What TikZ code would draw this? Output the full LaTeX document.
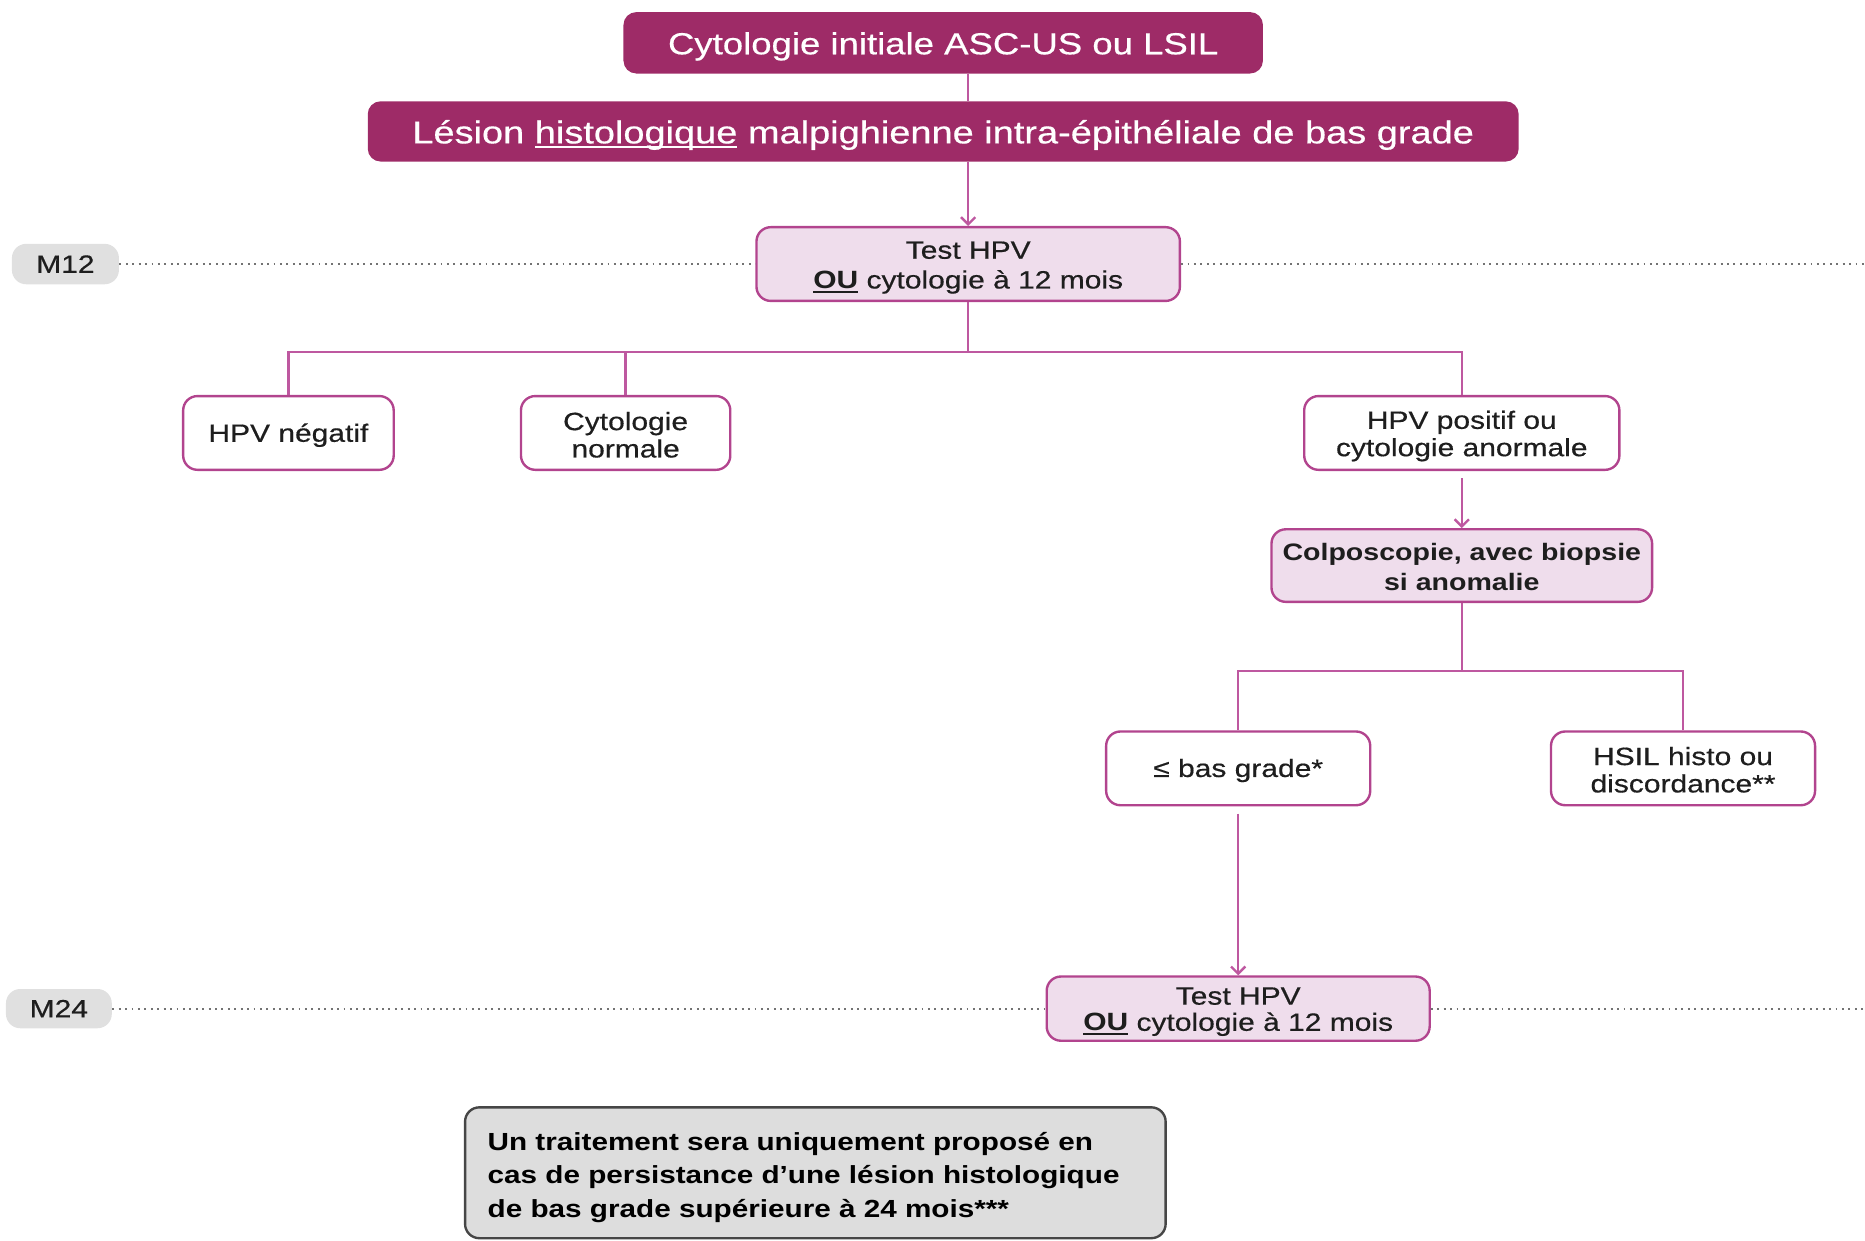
\documentclass[tikz,border=0pt]{standalone}
\usepackage{fontspec}
\setmainfont{Liberation Sans}[FakeStretch=1.2, UprightFeatures={FakeBold=0.5}]
\usetikzlibrary{arrows.meta}

\definecolor{plum}{RGB}{158,43,103}
\definecolor{rim}{RGB}{178,68,142}
\definecolor{wire}{RGB}{190,88,160}
\definecolor{blush}{RGB}{239,221,236}
\definecolor{ink}{RGB}{30,30,30}
\definecolor{tag}{RGB}{224,224,224}
\definecolor{notefill}{RGB}{221,221,221}
\definecolor{noterim}{RGB}{70,70,70}
\definecolor{dots}{RGB}{115,115,115}

% underline kept just below the baseline
\newsavebox\ulbox
\newcommand\ulword[1]{\sbox\ulbox{#1}\rlap{\rule[-1.8pt]{\wd\ulbox}{0.8pt}}\usebox\ulbox}
% invisible strut that sets the height of a first line
\newcommand\lift[1]{\rule{0pt}{#1}}

\begin{document}
\begin{tikzpicture}[x=0.5pt,y=-0.5pt,
  plumbox/.style={draw=plum, fill=plum, rounded corners=5pt, text=white,
    line width=0.8pt, inner sep=0pt, align=center},
  stepbox/.style={draw=rim, fill=blush, rounded corners=6pt, line width=1pt,
    inner sep=0pt, align=center, text=ink, font=\fontsize{10.5}{12.5}\selectfont},
  outcome/.style={draw=rim, fill=white, rounded corners=6pt, line width=1pt,
    inner sep=0pt, align=center, text=ink, minimum height=31pt,
    font=\fontsize{10.5}{11.5}\selectfont},
  milestone/.style={fill=tag, rounded corners=6pt, inner sep=0pt, text=ink,
    font=\fontsize{10.5}{12}\selectfont},
  notebox/.style={draw=noterim, fill=notefill, rounded corners=6pt, line width=1pt,
    inner xsep=9.5pt, inner ysep=2pt, align=left, text=black,
    font=\fontsize{10.4}{14}\selectfont\bfseries},
  link/.style={draw=wire, line width=1pt},
  flow/.style={link, -{Straight Barb[length=3pt,width=6pt]}},
  timeline/.style={draw=dots, dash pattern=on 0.8pt off 1.9pt, line width=0.8pt}
]
\useasboundingbox (0,0) rectangle (1568,1043);

% header boxes
\node[plumbox, minimum width=268pt, minimum height=25pt,
  font=\fontsize{12.8}{15}\selectfont] (top) at (793,36)
  {\lift{12.3pt}Cytologie initiale ASC-US ou LSIL};
\node[plumbox, minimum width=483pt, minimum height=24.5pt,
  font=\fontsize{13.3}{15}\selectfont] (lesion) at (793,110.5)
  {\lift{12.8pt}Lésion \ulword{histologique} malpighienne intra-épithéliale de bas grade};

% first control (12 months)
\node[stepbox, minimum width=178pt, minimum height=31pt] (t12) at (814,222)
  {\lift{10.2pt}Test HPV\\\ulword{\textbf{OU}} cytologie à 12 mois};
\node[milestone, minimum width=45pt, minimum height=17pt] (m12) at (55,222) {M12};
\coordinate (m12end) at (1568,222);

% results
\node[outcome, minimum width=88.5pt] (neg) at (242.5,364) {\lift{9.6pt}HPV négatif};
\node[outcome, minimum width=88pt] (cyt) at (526,364) {\lift{9.2pt}Cytologie\\normale};
\node[outcome, minimum width=132.5pt] (pos) at (1229,364) {\lift{10.2pt}HPV positif ou\\cytologie anormale};

\node[stepbox, minimum width=160pt, minimum height=30.5pt,
  font=\fontsize{10}{12.5}\selectfont\bfseries] (colpo) at (1229,475.5)
  {\lift{8.2pt}Colposcopie, avec biopsie\\si anomalie};

\node[outcome, minimum width=111pt] (bas) at (1041,646) {\lift{9.4pt}≤ bas grade*};
\node[outcome, minimum width=111pt] (hsil) at (1415,646) {\lift{8.8pt}HSIL histo ou\\discordance**};

% second control (24 months)
\node[stepbox, minimum width=161pt, minimum height=27pt,
  font=\fontsize{10.5}{11}\selectfont] (t24) at (1041,848)
  {\lift{9.8pt}Test HPV\\\ulword{\textbf{OU}} cytologie à 12 mois};
\node[milestone, minimum width=44.5pt, minimum height=16.5pt] (m24) at (49.5,848) {M24};
\coordinate (m24end) at (1568,848);

% closing note
\node[notebox, minimum width=294.5pt, minimum height=55pt, text width=275.5pt]
  (note) at (685.5,986)
  {\lift{11.6pt}Un traitement sera uniquement proposé en\\
   cas de persistance d’une lésion histologique\\
   de bas grade supérieure à 24 mois***};

% time lines
\draw[timeline] (m12.east) -- (t12.west);
\draw[timeline] (t12.east) -- (m12end);
\draw[timeline] (m24.east) -- (t24.west);
\draw[timeline] (t24.east) -- (m24end);

% connectors
\draw[link] (top.south -| t12.north) -- (lesion.north -| t12.north);
\draw[flow] (lesion.south -| t12.north) -- (t12.north);

\coordinate (bus1) at (814,296);
\draw[link] (t12.south) -- (bus1);
\draw[link] (neg.north) |- (bus1);
\draw[link] (pos.north) |- (bus1);
\draw[link] (cyt.north) -- (cyt.north |- bus1);

\draw[flow, shorten <=3pt] (pos.south) -- (colpo.north);

\coordinate (bus2) at (1229,564);
\draw[link] (colpo.south) -- (bus2);
\draw[link] (bas.north) |- (bus2);
\draw[link] (hsil.north) |- (bus2);

\draw[flow, shorten <=3pt] (bas.south) -- (t24.north);
\end{tikzpicture}
\end{document}
